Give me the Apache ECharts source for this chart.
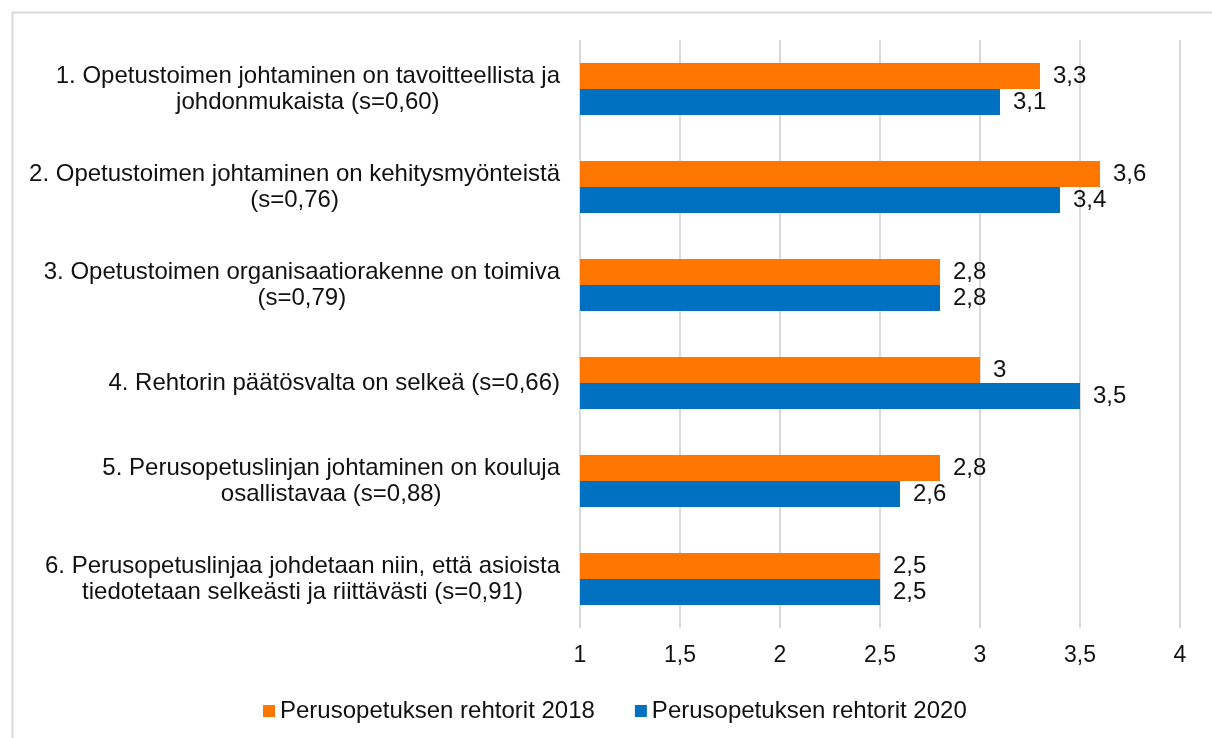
<!DOCTYPE html>
<html>
<head>
<meta charset="utf-8">
<script src="https://cdn.jsdelivr.net/npm/echarts@6/dist/echarts.min.js"></script>
<style>
  html, body { margin: 0; padding: 0; background: #fff; }
  #chart { width: 1212px; height: 738px; }
</style>
</head>
<body>
<div id="chart"></div>
<script>
// data
var categories = [
    '1. Opetustoimen johtaminen on tavoitteellista ja\njohdonmukaista (s=0,60)',
    '2. Opetustoimen johtaminen on kehitysmyönteistä\n(s=0,76)',
    '3. Opetustoimen organisaatiorakenne on toimiva\n(s=0,79)',
    '4. Rehtorin päätösvalta on selkeä (s=0,66)',
    '5. Perusopetuslinjan johtaminen on kouluja\nosallistavaa (s=0,88)',
    '6. Perusopetuslinjaa johdetaan niin, että asioista\ntiedotetaan selkeästi ja riittävästi (s=0,91)'
];
var names = ['Perusopetuksen rehtorit 2018', 'Perusopetuksen rehtorit 2020'];
var values2018 = [3.3, 3.6, 2.8, 3.0, 2.8, 2.5];
var values2020 = [3.1, 3.4, 2.8, 3.5, 2.6, 2.5];
var colors = ['#FF7700', '#0070C0'];

var font = '"Liberation Sans", Arial, sans-serif';

function comma(v) {
    return String(v).replace('.', ',');
}

var myChart = echarts.init(document.getElementById('chart'));
myChart.setOption({
    color: colors,
    animation: false,
    textStyle: { fontFamily: font },
    graphic: [{
        type: 'rect',
        left: 10, top: 10,
        shape: { width: 1300, height: 800 },
        style: { fill: 'none', stroke: '#d9d9d9', lineWidth: 2 },
        silent: true
    }],
    grid: { left: 580, right: 32, top: 40, bottom: 110 },
    legend: {
        data: names,
        top: 694,
        left: 258,
        icon: 'rect',
        itemWidth: 12,
        itemHeight: 12,
        itemGap: 40,
        textStyle: { fontSize: 24, color: '#111', fontFamily: font }
    },
    xAxis: {
        type: 'value',
        min: 1,
        max: 4,
        interval: 0.5,
        axisLine: { show: false },
        axisTick: { show: false },
        splitLine: { lineStyle: { color: '#d9d9d9', width: 2 } },
        axisLabel: {
            margin: 16,
            fontSize: 23,
            color: '#111',
            formatter: function (v) { return comma(v); }
        }
    },
    yAxis: {
        type: 'category',
        inverse: true,
        data: categories,
        axisLine: { show: false },
        axisTick: { show: false },
        axisLabel: {
            margin: 20,
            color: '#111',
            formatter: function (v) {
                return v.split('\n').map(function (l) { return '{c|' + l + '}'; }).join('\n');
            },
            rich: {
                c: { align: 'center', fontSize: 24, lineHeight: 26, color: '#111', fontFamily: font }
            }
        }
    },
    series: [
        {
            name: names[0],
            type: 'bar',
            data: values2018,
            barWidth: 26,
            barGap: '0%',
            label: {
                show: true, position: 'right', distance: 13,
                fontSize: 24, color: '#111',
                formatter: function (p) { return comma(p.value); }
            }
        },
        {
            name: names[1],
            type: 'bar',
            data: values2020,
            barWidth: 26,
            label: {
                show: true, position: 'right', distance: 13,
                fontSize: 24, color: '#111',
                formatter: function (p) { return comma(p.value); }
            }
        }
    ]
});
</script>
</body>
</html>
